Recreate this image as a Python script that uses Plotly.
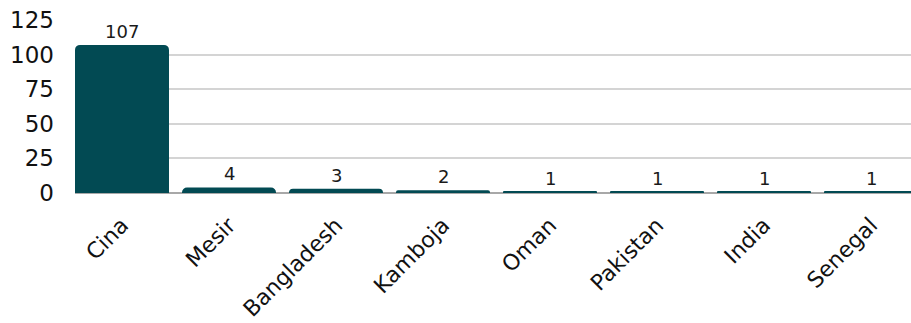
import plotly.graph_objects as go

# Country of origin and count
countries = ["Cina", "Mesir", "Bangladesh", "Kamboja", "Oman", "Pakistan", "India", "Senegal"]
counts = [107, 4, 3, 2, 1, 1, 1, 1]
y_ticks = [0, 25, 50, 75, 100, 125]

BAR_COLOR = "#024a53"
BAR_GAP = 0.1215
half = (1 - BAR_GAP) / 2

fig = go.Figure(
    go.Bar(
        x=countries,
        y=counts,
        marker=dict(color=BAR_COLOR, line=dict(width=0)),
        width=1 - BAR_GAP,
        hoverinfo="skip",
    )
)

# value labels above bars
for c, v in zip(countries, counts):
    fig.add_annotation(
        x=c, y=v, text=str(v), showarrow=False,
        yanchor="bottom", yshift=1,
        font=dict(family="DejaVu Sans", size=18, color="#1a1a1a"),
    )

fig.update_layout(
    width=911,
    height=323,
    margin=dict(l=75, r=0, t=20, b=130),
    paper_bgcolor="white",
    plot_bgcolor="white",
    barcornerradius=5,
    showlegend=False,
    font=dict(family="DejaVu Sans", color="#111111"),
)

fig.update_xaxes(
    range=[-half, -half + 836 / 107],
    tickangle=-45,
    tickfont=dict(family="DejaVu Sans", size=22, color="#111111"),
    showgrid=False,
    showline=False,
    ticks="",
    ticklabelstandoff=14,
    automargin=False,
    fixedrange=True,
)

fig.update_yaxes(
    range=[0, 125],
    tickvals=y_ticks,
    tickfont=dict(family="DejaVu Sans", size=23, color="#111111"),
    showgrid=True,
    gridcolor="#d4d4d4",
    gridwidth=2,
    zeroline=True,
    zerolinecolor="#a8a8a8",
    zerolinewidth=2,
    ticks="",
    ticklabelstandoff=20,
    automargin=False,
    fixedrange=True,
)

fig.write_html("out.html", config={"displayModeBar": False})
